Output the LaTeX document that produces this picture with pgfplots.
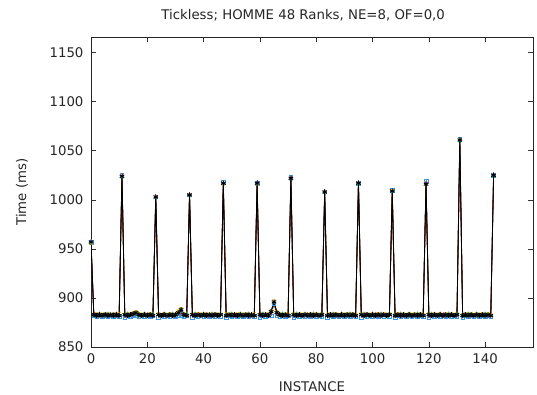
\documentclass[border=0pt]{standalone}
\usepackage{pgfplots}
\usepackage{pgfplotstable}
\pgfplotsset{compat=1.18}
\usepackage{fontspec}
\setmainfont{DejaVu Sans}
\definecolor{lnA}{RGB}{110,40,30}
\definecolor{lnB}{RGB}{80,30,20}
\definecolor{mkA}{RGB}{60,150,220}
\definecolor{mkB}{RGB}{240,190,20}
\definecolor{mkC}{RGB}{200,80,200}
\definecolor{mkD}{RGB}{30,160,150}
\pgfplotstableread{
x A B C D E
0 957 956 958 957 957
1 882 883 884 882 883
2 881 884 883 883 882
3 882 883 882 884 883
4 881 884 883 882 882
5 882 883 884 883 883
6 881 884 882 884 882
7 882 883 883 882 883
8 881 884 884 883 882
9 882 883 882 884 883
10 881 884 883 882 882
11 1025 1024 1025 1023 1024
12 880 883 882 883 883
13 882 884 883 884 882
14 881 883 884 882 883
15 882 885 883 883 884
16 882 886 884 884 885
17 881 884 883 882 883
18 882 883 882 883 882
19 881 884 883 884 883
20 882 883 884 882 882
21 881 884 882 883 883
22 882 883 883 884 882
23 1003 1003 1004 1002 1003
24 880 884 882 883 883
25 882 883 883 882 882
26 881 884 884 884 883
27 882 883 882 883 882
28 881 884 883 882 883
29 882 883 884 884 882
30 881 884 882 883 883
31 882 887 884 884 885
32 882 889 885 886 888
33 881 884 883 882 883
34 882 883 882 884 882
35 1005 1005 1006 1004 1005
36 880 883 882 883 883
37 882 884 883 884 882
38 881 883 884 882 883
39 882 884 882 883 882
40 881 883 883 884 883
41 882 884 884 882 882
42 881 883 882 883 883
43 882 884 883 884 882
44 881 883 884 882 883
45 882 884 882 883 882
46 881 883 883 884 883
47 1018 1016 1017 1017 1017
48 880 884 882 883 882
49 882 883 883 882 883
50 881 884 884 884 882
51 882 883 882 883 883
52 881 884 883 882 882
53 882 883 884 884 883
54 881 884 882 883 882
55 882 883 883 882 883
56 881 884 884 884 882
57 882 883 882 883 883
58 881 884 883 882 882
59 1017 1016 1018 1017 1017
60 880 883 882 883 883
61 882 884 883 884 882
62 881 883 884 882 883
63 882 884 882 883 882
64 882 887 885 886 886
65 894 897 896 895 896
66 882 886 884 885 885
67 881 884 883 882 883
68 882 883 884 884 882
69 881 884 882 883 883
70 882 883 883 882 882
71 1023 1022 1022 1021 1022
72 880 884 882 883 883
73 882 883 883 884 882
74 881 884 884 882 883
75 882 883 882 883 882
76 881 884 883 884 883
77 882 883 884 882 882
78 881 884 882 883 883
79 882 883 883 884 882
80 881 884 884 882 883
81 882 883 882 883 882
82 881 884 883 884 883
83 1008 1008 1009 1007 1008
84 880 883 882 883 882
85 882 884 883 882 883
86 881 883 884 884 882
87 882 884 882 883 883
88 881 883 883 882 882
89 882 884 884 884 883
90 881 883 882 883 882
91 882 884 883 882 883
92 881 883 884 884 882
93 882 884 882 883 883
94 881 883 883 882 882
95 1017 1017 1018 1016 1017
96 880 884 882 883 883
97 882 883 883 884 882
98 881 884 884 882 883
99 882 883 882 883 882
100 881 884 883 884 883
101 882 883 884 882 882
102 881 884 882 883 883
103 882 883 883 884 882
104 881 884 884 882 883
105 882 883 882 883 882
106 881 884 883 884 883
107 1010 1009 1009 1008 1009
108 880 883 882 883 882
109 882 884 883 882 883
110 881 883 884 884 882
111 882 884 882 883 883
112 881 883 883 882 882
113 882 884 884 884 883
114 881 883 882 883 882
115 882 884 883 882 883
116 881 883 884 884 882
117 882 884 882 883 883
118 881 883 883 882 882
119 1019 1017 1018 1017 1016
120 880 884 882 883 883
121 882 883 883 884 882
122 881 884 884 882 883
123 882 883 882 883 882
124 881 884 883 884 883
125 882 883 884 882 882
126 881 884 882 883 883
127 882 883 883 884 882
128 881 884 884 882 883
129 882 883 882 883 882
130 881 884 883 884 883
131 1062 1061 1061 1060 1061
132 880 883 882 883 882
133 882 884 883 882 883
134 881 883 884 884 882
135 882 884 882 883 883
136 881 883 883 882 882
137 882 884 884 884 883
138 881 883 882 883 882
139 882 884 883 882 883
140 881 883 884 884 882
141 882 884 882 883 883
142 881 883 883 882 882
143 1025 1025 1026 1024 1025
}\datatable
\begin{document}
\begin{tikzpicture}
\useasboundingbox (0,0) rectangle (537pt,395pt);
\begin{axis}[
  at={(91pt,48pt)}, anchor=south west,
  scale only axis, width=442pt, height=310pt,
  xmin=0, xmax=157, ymin=850, ymax=1166,
  xtick={0,20,...,140}, ytick={850,900,...,1150},
  tick align=inside, major tick length=5pt,
  tick style={black!80, line width=0.6pt},
  axis line style={black!85, line width=0.8pt},
  /pgf/number format/assume math mode=true,
  /pgf/number format/set thousands separator={},
  tick label style={font=\fontsize{13.3}{15}\selectfont, text=black!85},
  yticklabel style={xshift=-4pt},
  xticklabel style={yshift=-3pt},
  title={Tickless; HOMME 48 Ranks, NE=8, OF=0,0},
  title style={at={(axis description cs:0.48,1.074)}, anchor=base, yshift=-11pt, font=\fontsize{13.3}{15}\selectfont, text=black!85},
  xlabel={INSTANCE},
  xlabel style={at={(axis description cs:0.5,-0.129)}, anchor=center, font=\fontsize{13.3}{15}\selectfont, text=black!85},
  ylabel={Time (ms)},
  ylabel style={at={(axis description cs:-0.156,0.5)}, anchor=center, rotate=0, font=\fontsize{13.3}{15}\selectfont, text=black!85},
]
\addplot[color=lnA, line width=0.7pt, mark=square, mark size=1.8pt, mark options={draw=mkA, line width=0.6pt}] table[x=x,y=A]{\datatable};
\addplot[color=lnB, line width=0.7pt, mark=x, mark size=2.2pt, mark options={draw=mkB, line width=0.8pt}] table[x=x,y=B]{\datatable};
\addplot[color=lnA, line width=0.7pt, mark=+, mark size=2pt, mark options={draw=mkC, line width=0.6pt}] table[x=x,y=C]{\datatable};
\addplot[color=lnB, line width=0.7pt, mark=triangle, mark size=1.8pt, mark options={draw=mkD, line width=0.5pt}] table[x=x,y=D]{\datatable};
\addplot[color=black, line width=0.9pt, mark=asterisk, mark size=2.6pt, mark options={draw=black, line width=0.9pt}] table[x=x,y=E]{\datatable};
\end{axis}
\end{tikzpicture}
\end{document}
